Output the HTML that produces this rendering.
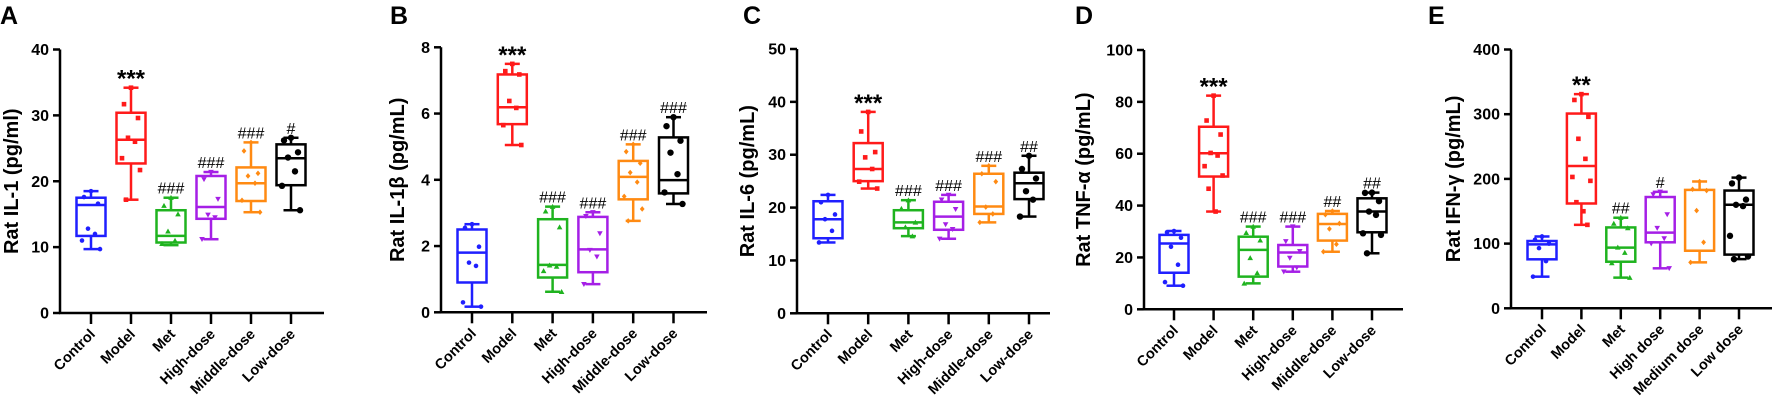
<!DOCTYPE html>
<html><head><meta charset="utf-8">
<style>
html,body{margin:0;padding:0;background:#fff;}
svg{display:block;font-family:"Liberation Sans",Arial,sans-serif;}
</style></head>
<body>
<svg id="fig" width="1772" height="408" viewBox="0 0 1772 408" xmlns="http://www.w3.org/2000/svg"></svg>
<script>
// ---------- DATA ----------
const catsABCD = ["Control","Model","Met","High-dose","Middle-dose","Low-dose"];
const catsE = ["Control","Model","Met","High dose","Medium dose","Low dose"];

const ticksA = [0,10,20,30,40];
const statsA = [[9.7,11.7,16.4,17.5,18.5],[17.2,22.7,26.3,30.4,34.2],[10.3,10.7,11.7,15.6,17.5],[11.2,14.3,16.1,20.8,21.4],[15.3,17.0,19.7,22.1,25.9],[15.6,19.4,23.5,25.6,26.6]];
const ptsA = [[18.5,17.6,16.6,12.8,12.0,11.0,9.7],[34.2,31.7,29.6,26.6,26.0,23.5,21.7,17.2],[17.5,16.3,15.0,12.4,11.0,10.5],[21.4,20.3,17.3,14.9,14.5,11.2],[25.9,24.6,21.2,20.8,19.7,17.1,15.3],[26.6,26.2,24.4,23.6,21.5,19.3,15.6]];
const annA = ["","***","###","###","###","#"];

const ticksB = [0,2,4,6,8];
const statsB = [[0.17,0.9,1.8,2.5,2.66],[5.05,5.68,6.19,7.18,7.5],[0.62,1.05,1.43,2.81,3.19],[0.85,1.21,1.9,2.88,3.02],[2.76,3.41,4.09,4.57,5.07],[3.27,3.59,3.99,5.28,5.89]];
const ptsB = [[2.66,2.55,1.98,1.5,1.4,0.3,0.17],[7.5,7.28,7.18,6.38,6.17,5.65,5.05],[3.19,3.05,2.57,1.42,1.38,1.25,0.62],[3.02,2.9,2.38,1.88,1.68,0.85],[5.07,4.85,4.5,4.22,3.93,3.5,3.12,2.76],[5.89,5.62,5.18,4.82,4.17,3.62,3.27]];
const annB = ["","***","###","###","###","###"];

const ticksC = [0,10,20,30,40,50];
const statsC = [[13.4,14.2,17.8,21.2,22.4],[23.6,25.0,27.3,32.2,38.1],[14.6,16.1,17.2,19.5,21.4],[14.1,15.8,18.3,21.1,22.4],[17.2,18.8,20.2,26.4,27.9],[18.3,21.6,24.6,26.6,29.8]];
const ptsC = [[22.4,21.0,18.7,17.8,15.6,13.4],[38.1,34.4,30.5,29.5,27.3,24.9,23.6],[21.4,19.8,17.2,16.3,14.6],[22.4,21.5,19.7,16.8,15.9,14.1],[27.9,26.4,24.9,20.1,18.8,17.2],[29.8,27.3,25.5,23.1,21.5,18.3]];
const annC = ["","***","###","###","###","##"];

const ticksD = [0,20,40,60,80,100];
const statsD = [[9.1,14.1,25.4,28.7,30.2],[37.7,51.2,60.2,70.4,82.4],[10,12.6,22.9,28,31.9],[14.5,16.5,21.9,24.8,31.9],[22.2,26.5,32.9,36.8,37.9],[21.6,29.7,37.7,42.8,45]];
const ptsD = [[30.2,29.7,27.6,24.1,17.2,10.5,9.1],[82.4,72.8,67.4,60.3,59.3,55.2,51.6,46.5,37.7],[31.9,29.5,26.6,19.8,14,10],[31.9,26.2,22.4,19.8,16.1,14.5],[37.9,36.5,33.1,31.0,25.1,22.2],[45,44.9,41.7,37.7,36.4,29.3,28.7,21.6]];
const annD = ["","***","###","###","##","##"];

const ticksE = [0,100,200,300,400];
const statsE = [[48.9,75.7,98.8,104,111],[129,162,220,301,331],[47.4,72,93.7,125,140],[61.8,102,117,172,180],[71,89,89,183,196],[76,83,160,182,202]];
const ptsE = [[111,106,100,93,73,48.9],[331,322,296,262,231,203,197,164,150,129],[140,131,124,94,86,70,47.4],[180,176,145,124,108,100,61.8],[196,184,182,151,102,71],[202,193,168,160,158,112,80,76]];
const annE = ["","**","##","#","",""];

// ---------- LAYOUT ----------
const colors = ["#1f1fff","#ff1a1a","#1fb31f","#a51fe6","#ff8a12","#000000"];
const shapes = ["circle","square","tri-up","tri-down","diamond","circle-big"];
const panels = [
 {id:"a",letter:"A",lx:0,title:"Rat IL-1 (pg/ml)",tx:12,ax:60,top:49.5,zero:313,xend:324,c0:91,step:40,max:40,ticks:ticksA,stats:statsA,pts:ptsA,ann:annA,cats:catsABCD},
 {id:"b",letter:"B",lx:390,title:"Rat IL-1β (pg/mL)",tx:398,ax:441,top:47.3,zero:312.3,xend:707,c0:472,step:40.3,max:8,ticks:ticksB,stats:statsB,pts:ptsB,ann:annB,cats:catsABCD},
 {id:"c",letter:"C",lx:743,title:"Rat IL-6 (pg/mL)",tx:748,ax:797,top:49,zero:313.3,xend:1050,c0:828,step:40.2,max:50,ticks:ticksC,stats:statsC,pts:ptsC,ann:annC,cats:catsABCD},
 {id:"d",letter:"D",lx:1075,title:"Rat TNF-α (pg/mL)",tx:1084,ax:1144,top:50,zero:309.3,xend:1403,c0:1174,step:39.6,max:100,ticks:ticksD,stats:statsD,pts:ptsD,ann:annD,cats:catsABCD},
 {id:"e",letter:"E",lx:1428,title:"Rat IFN-γ (pg/mL)",tx:1454,ax:1511,top:49.5,zero:308.3,xend:1772,c0:1542,step:39.4,max:400,ticks:ticksE,stats:statsE,pts:ptsE,ann:annE,cats:catsE}
];
const NS="http://www.w3.org/2000/svg";
const svg=document.getElementById("fig");
function mk(tag,attrs,parent){const e=document.createElementNS(NS,tag);for(const k in attrs)e.setAttribute(k,attrs[k]);(parent||svg).appendChild(e);return e;}
const jit=[0,-7,7,-3,4,-9,9,-5,2,6];

panels.forEach(p=>{
  const g=mk("g",{});
  
  
  const y=v=>p.zero-(v/p.max)*(p.zero-p.top);
  const x=i=>p.c0+i*p.step;
  const L=mk("text",{x:p.lx,y:24,"font-size":25,"font-weight":"bold",fill:"#000"},g);L.textContent=p.letter;
  
  
  const T=mk("text",{x:p.tx,y:(p.top+p.zero)/2,"font-size":20,"font-weight":"bold","text-anchor":"middle","dominant-baseline":"central",transform:`rotate(-90 ${p.tx} ${(p.top+p.zero)/2})`},g);T.textContent=p.title;
  
  
  // axes
  const ya=mk("line",{x1:p.ax,y1:p.top,x2:p.ax,y2:p.zero+1,stroke:"#000","stroke-width":2.5},g);
  
  
  const xa=mk("line",{x1:p.ax-1,y1:p.zero,x2:p.xend,y2:p.zero,stroke:"#000","stroke-width":2.5},g);
  
  
  p.ticks.forEach(t=>{
    mk("line",{x1:p.ax-7,y1:y(t),x2:p.ax,y2:y(t),stroke:"#000","stroke-width":2.5},g);
    const tl=mk("text",{x:p.ax-11,y:y(t)+5.5,"font-size":16,"font-weight":"bold","text-anchor":"end"},g);tl.textContent=t;
    
    
  });
  p.cats.forEach((c,i)=>{
    const cx=x(i);
    mk("line",{x1:cx,y1:p.zero,x2:cx,y2:p.zero+11,stroke:"#000","stroke-width":2.5},g);
    const cl=mk("text",{x:cx+5,y:p.zero+22,"font-size":14.5,"font-weight":"bold","text-anchor":"end",transform:`rotate(-45 ${cx+5} ${p.zero+22})`},g);cl.textContent=c;
    
    
    const s=p.stats[i],col=colors[i];
    const bg=mk("g",{stroke:col,"stroke-width":2.5,fill:"none"},g);
    
    
    const hw=14.5,cw=7.5;
    mk("line",{x1:cx,y1:y(s[0]),x2:cx,y2:y(s[1])},bg);
    mk("line",{x1:cx,y1:y(s[3]),x2:cx,y2:y(s[4])},bg);
    mk("line",{x1:cx-cw,y1:y(s[0]),x2:cx+cw,y2:y(s[0])},bg);
    mk("line",{x1:cx-cw,y1:y(s[4]),x2:cx+cw,y2:y(s[4])},bg);
    mk("rect",{x:cx-hw,y:y(s[3]),width:2*hw,height:y(s[1])-y(s[3]),fill:"#fff"},bg);
    mk("line",{x1:cx-hw,y1:y(s[2]),x2:cx+hw,y2:y(s[2])},bg);
    p.pts[i].forEach((v,k)=>{
      const px=cx+jit[k%jit.length],py=y(v),sh=shapes[i];
      let m;
      if(sh==="circle")m=mk("circle",{cx:px,cy:py,r:2.3,fill:col,stroke:"none"},bg);
      else if(sh==="circle-big")m=mk("circle",{cx:px,cy:py,r:3.2,fill:col,stroke:"none"},bg);
      else if(sh==="square")m=mk("rect",{x:px-2.3,y:py-2.3,width:4.6,height:4.6,fill:col,stroke:"none"},bg);
      else if(sh==="tri-up")m=mk("polygon",{points:`${px},${py-2.8} ${px-2.8},${py+2.2} ${px+2.8},${py+2.2}`,fill:col,stroke:"none"},bg);
      else if(sh==="tri-down")m=mk("polygon",{points:`${px},${py+2.8} ${px-2.8},${py-2.2} ${px+2.8},${py-2.2}`,fill:col,stroke:"none"},bg);
      else m=mk("polygon",{points:`${px},${py-2.8} ${px+2.4},${py} ${px},${py+2.8} ${px-2.4},${py}`,fill:col,stroke:"none"},bg);
      
      
    });
    if(p.ann[i]){
      const star=p.ann[i].includes("*");
      const a=mk("text",{x:cx,y:y(s[4])-(star?1:4),"font-size":star?24:16,"font-weight":star?"bold":"normal","text-anchor":"middle",fill:"#000"},g);
      a.textContent=p.ann[i];
      
      
    }
  });
});
</script>
</body></html>
